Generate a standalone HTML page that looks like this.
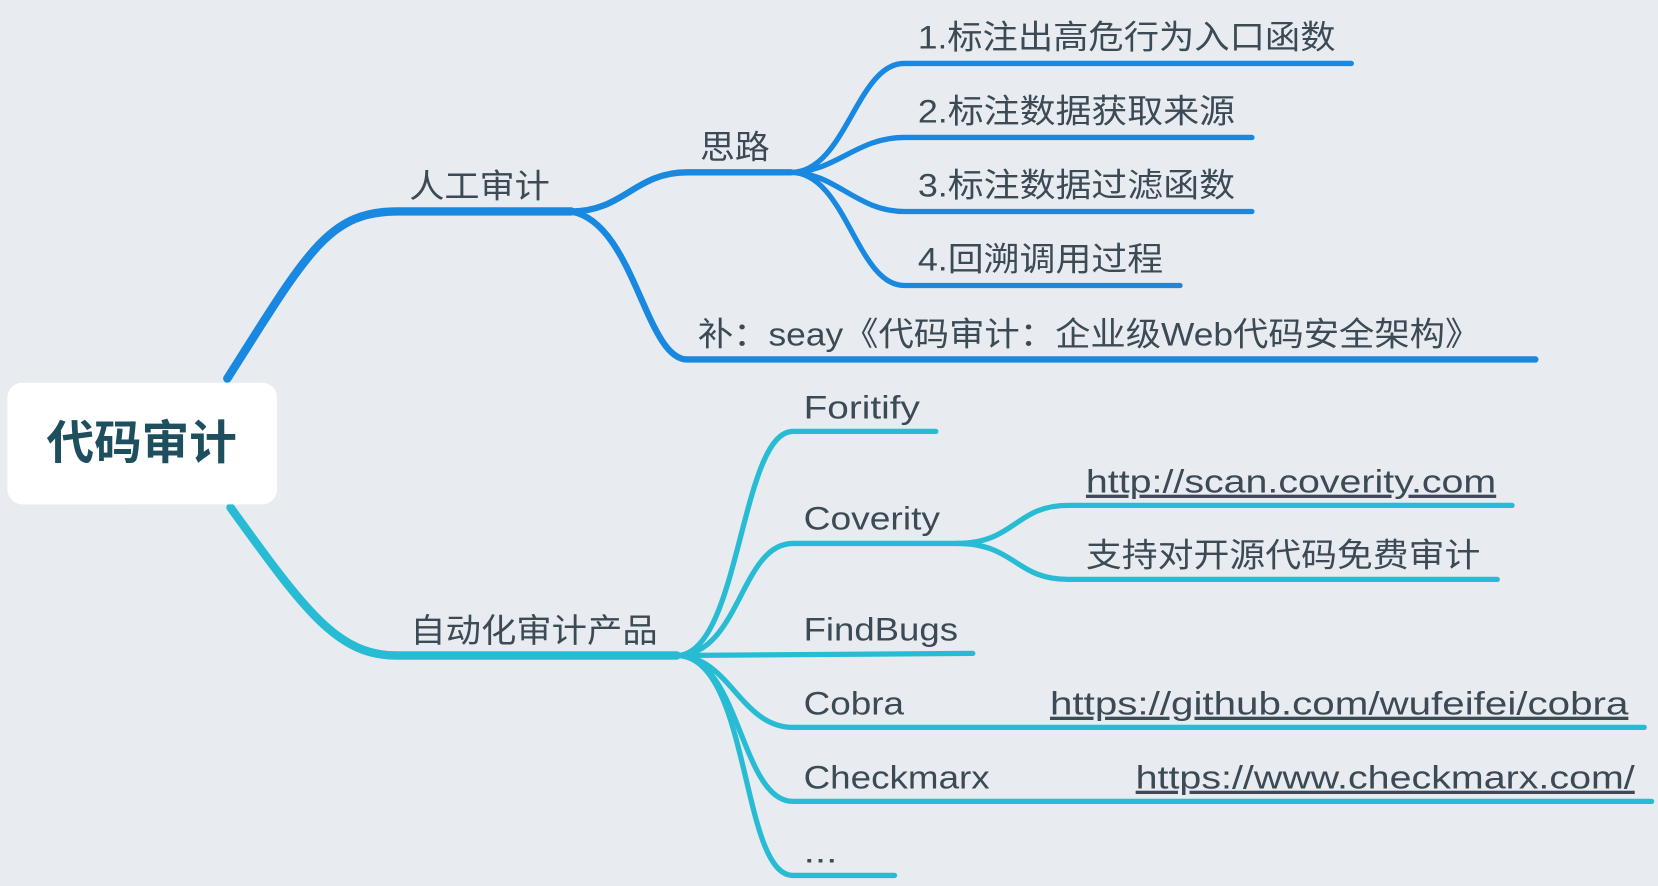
<!DOCTYPE html>
<html><head><meta charset="utf-8"><style>
html,body{margin:0;padding:0;background:#e8ecf0;overflow:hidden}
svg{display:block}
text{font-family:"Liberation Sans","Noto Sans CJK SC",sans-serif;fill:#3b4a55;font-size:31px}
</style></head><body>
<svg width="1658" height="886" viewBox="0 0 1568 838" preserveAspectRatio="none">
<rect width="1568" height="838" fill="#e8ecf0"/>
<g fill="none" stroke="#1888e0" stroke-linecap="round">
<path d="M215 358 C290 240 310 200 375 200 L540 200" stroke-width="8"/>
<path d="M540 200 C590 200 600 163 650 163 L748 163" stroke-width="6"/>
<path d="M540 200 C600 210 610 340 650 340 L1452 340" stroke-width="6"/>
<path d="M748 163 C800 163 810 60 855 60 L1278 60" stroke-width="5"/>
<path d="M748 163 C790 163 810 130 855 130 L1184 130" stroke-width="5"/>
<path d="M748 163 C790 163 810 200 855 200 L1184 200" stroke-width="5"/>
<path d="M748 163 C800 163 810 270 855 270 L1116 270" stroke-width="5"/>
</g>
<g fill="none" stroke="#28bcd4" stroke-linecap="round">
<path d="M218 480 C290 580 320 620 375 620 L640 620" stroke-width="8"/>
<path d="M640 620 C700 620 700 408 750 408 L885 408" stroke-width="5"/>
<path d="M640 620 C700 620 700 514 750 514 L905 514" stroke-width="5"/>
<path d="M640 620 L920 618" stroke-width="5"/>
<path d="M640 620 C690 620 700 688 750 688 L1555 688" stroke-width="5"/>
<path d="M640 620 C700 620 700 758 750 758 L1562 758" stroke-width="5"/>
<path d="M640 620 C710 620 700 828 750 828 L846 828" stroke-width="5"/>
<path d="M905 514 C960 514 960 478 1010 478 L1430 478" stroke-width="5"/>
<path d="M905 514 C960 514 960 548 1010 548 L1416 548" stroke-width="5"/>
</g>
<rect x="7" y="362" width="255" height="115" rx="14" fill="#fff"/>
<text x="44" y="434" textLength="180" lengthAdjust="spacingAndGlyphs" style="font-size:44px;font-weight:bold;fill:#1d4f5e">代码审计</text>
<text x="387" y="187" textLength="133" lengthAdjust="spacingAndGlyphs">人工审计</text>
<text x="662" y="150" textLength="66" lengthAdjust="spacingAndGlyphs">思路</text>
<text x="868" y="46" textLength="395" lengthAdjust="spacingAndGlyphs">1.标注出高危行为入口函数</text>
<text x="868" y="116" textLength="300" lengthAdjust="spacingAndGlyphs">2.标注数据获取来源</text>
<text x="868" y="186" textLength="300" lengthAdjust="spacingAndGlyphs">3.标注数据过滤函数</text>
<text x="868" y="256" textLength="232" lengthAdjust="spacingAndGlyphs">4.回溯调用过程</text>
<text x="660" y="327" textLength="740" lengthAdjust="spacingAndGlyphs">补：seay《代码审计：企业级Web代码安全架构》</text>
<text x="388" y="607" textLength="234" lengthAdjust="spacingAndGlyphs">自动化审计产品</text>
<text x="760" y="396" textLength="110" lengthAdjust="spacingAndGlyphs">Foritify</text>
<text x="760" y="501" textLength="129" lengthAdjust="spacingAndGlyphs">Coverity</text>
<text x="760" y="606" textLength="146" lengthAdjust="spacingAndGlyphs">FindBugs</text>
<text x="760" y="676" textLength="95" lengthAdjust="spacingAndGlyphs">Cobra</text>
<text x="760" y="746" textLength="176" lengthAdjust="spacingAndGlyphs">Checkmarx</text>
<text x="760" y="816" textLength="32" lengthAdjust="spacingAndGlyphs">...</text>
<text x="1027" y="466" textLength="388" lengthAdjust="spacingAndGlyphs" text-decoration="underline">http://scan.coverity.com</text>
<text x="1027" y="536" textLength="373" lengthAdjust="spacingAndGlyphs">支持对开源代码免费审计</text>
<text x="993" y="676" textLength="547" lengthAdjust="spacingAndGlyphs" text-decoration="underline">https://github.com/wufeifei/cobra</text>
<text x="1074" y="746" textLength="472" lengthAdjust="spacingAndGlyphs" text-decoration="underline">https://www.checkmarx.com/</text>
</svg>
</body></html>
